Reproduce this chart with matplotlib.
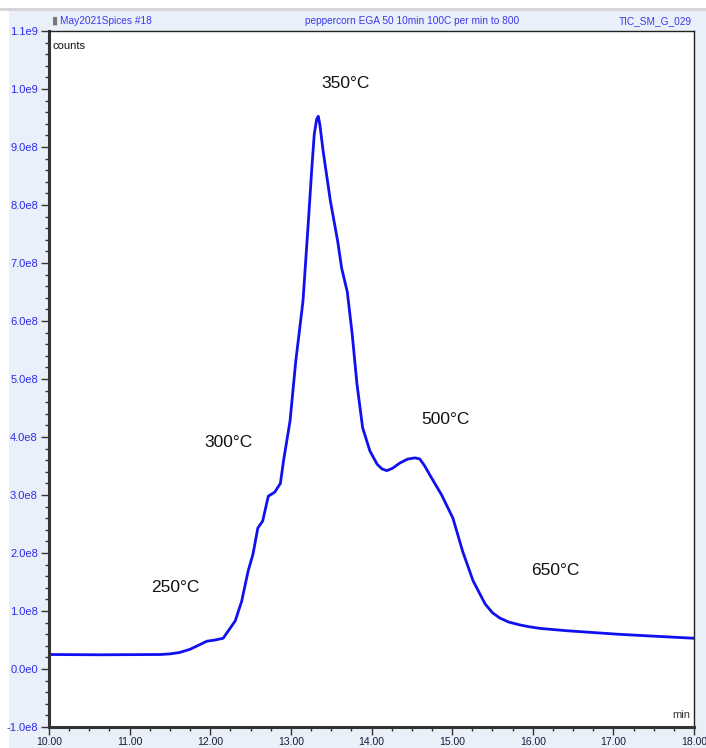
import matplotlib
matplotlib.use("Agg")
import matplotlib.pyplot as plt
from matplotlib.patches import Rectangle
from matplotlib.ticker import MultipleLocator, FixedLocator

plt.rcParams['font.family'] = ['Liberation Sans', 'DejaVu Sans']

# Retention time (min) and TIC counts
time_min = [10.00, 10.63, 11.38, 11.50, 11.62, 11.75, 11.87, 11.96, 12.06, 12.16,
            12.24, 12.31, 12.39, 12.47, 12.53, 12.59, 12.65, 12.72, 12.80, 12.87,
            12.91, 12.99, 13.06, 13.15, 13.22, 13.26, 13.29, 13.32, 13.34, 13.36,
            13.40, 13.49, 13.58, 13.63, 13.70, 13.76, 13.82, 13.89, 13.98, 14.07,
            14.13, 14.19, 14.26, 14.35, 14.45, 14.54, 14.60, 14.66, 14.73, 14.87,
            15.01, 15.13, 15.26, 15.41, 15.50, 15.59, 15.70, 15.84, 15.95, 16.09,
            16.42, 17.05, 17.45, 18.00]
counts = [2.5e7, 2.45e7, 2.5e7, 2.6e7, 2.85e7, 3.4e7, 4.2e7, 4.8e7, 5.0e7, 5.3e7,
          6.9e7, 8.3e7, 1.17e8, 1.69e8, 1.98e8, 2.43e8, 2.55e8, 2.98e8, 3.05e8, 3.2e8,
          3.6e8, 4.28e8, 5.3e8, 6.34e8, 7.78e8, 8.64e8, 9.22e8, 9.48e8, 9.53e8, 9.38e8,
          8.93e8, 8.07e8, 7.38e8, 6.91e8, 6.5e8, 5.78e8, 4.91e8, 4.16e8, 3.76e8, 3.53e8,
          3.45e8, 3.42e8, 3.46e8, 3.55e8, 3.62e8, 3.64e8, 3.62e8, 3.5e8, 3.33e8, 3.0e8,
          2.6e8, 2.03e8, 1.52e8, 1.12e8, 0.97e8, 0.88e8, 0.81e8, 0.76e8, 0.73e8, 0.70e8,
          0.66e8, 0.60e8, 0.57e8, 0.53e8]

annot_labels = ["250°C", "300°C", "350°C", "500°C", "650°C"]
annot_x = [11.57, 12.22, 13.68, 14.92, 16.28]
annot_y = [1.4e8, 3.9e8, 10.1e8, 4.3e8, 1.7e8]

x_ticks = [10, 11, 12, 13, 14, 15, 16, 17, 18]
x_tick_labels = ["10.00", "11.00", "12.00", "13.00", "14.00", "15.00", "16.00", "17.00", "18.00"]
y_ticks = [-1e8, 0, 1e8, 2e8, 3e8, 4e8, 5e8, 6e8, 7e8, 8e8, 9e8, 1.0e9, 1.1e9]
y_tick_labels = ["-1.0e8", "0.0e0", "1.0e8", "2.0e8", "3.0e8", "4.0e8", "5.0e8",
                 "6.0e8", "7.0e8", "8.0e8", "9.0e8", "1.0e9", "1.1e9"]

W, H = 706, 748
fig = plt.figure(figsize=(W / 100, H / 100), dpi=100, facecolor='#EAF0FA')

# top white strip and gray separator
fig.patches.append(Rectangle((0, 1 - 8 / H), 1, 8 / H, transform=fig.transFigure,
                             facecolor='white', edgecolor='none', zorder=-5))
fig.patches.append(Rectangle((0, 1 - 11 / H), 1, 3 / H, transform=fig.transFigure,
                             facecolor='#D6D6D6', edgecolor='none', zorder=-5))
fig.patches.append(Rectangle((0, 0), 9 / W, 1 - 11 / H, transform=fig.transFigure,
                             facecolor='white', edgecolor='none', zorder=-5))

left, right, top, bottom = 49, 694, 31, 727
ax = fig.add_axes([left / W, 1 - bottom / H, (right - left) / W, (bottom - top) / H])
ax.set_facecolor('white')

ax.plot(time_min, counts, color='#1010F0', lw=2.0, solid_joinstyle='round',
        solid_capstyle='round')

ax.set_xlim(10, 18)
ax.set_ylim(-1e8, 1.1e9)

ax.xaxis.set_major_locator(FixedLocator(x_ticks))
ax.set_xticklabels(x_tick_labels)
ax.xaxis.set_minor_locator(MultipleLocator(0.25))
ax.yaxis.set_major_locator(FixedLocator(y_ticks))
ax.set_yticklabels(y_tick_labels)
ax.yaxis.set_minor_locator(MultipleLocator(2e7))

ax.tick_params(axis='y', which='major', length=6, width=1, colors='#333333',
               labelcolor='#2B2BEE', labelsize=8, pad=2)
ax.tick_params(axis='y', which='minor', length=3, width=1, colors='#333333')
ax.tick_params(axis='x', which='major', length=6, width=1, colors='#333333',
               labelcolor='#1A1A3A', labelsize=7.5, pad=1)
ax.tick_params(axis='x', which='minor', length=3, width=1, colors='#333333')

for s in ['left', 'bottom']:
    ax.spines[s].set_linewidth(2.2)
    ax.spines[s].set_color('#333333')
for s in ['top', 'right']:
    ax.spines[s].set_linewidth(1.0)
    ax.spines[s].set_color('#222222')

for lab, xv, yv in zip(annot_labels, annot_x, annot_y):
    ax.text(xv, yv, lab, fontsize=12.5, color='#111111', ha='center', va='center')

ax.text(0.005, 0.985, "counts", transform=ax.transAxes, fontsize=8, color='#111111',
        ha='left', va='top')
ax.text(0.995, 0.01, "min", transform=ax.transAxes, fontsize=8, color='#333333',
        ha='right', va='bottom')

# header
hy = 1 - 21 / H
fig.text(52 / W, hy, "▮", fontsize=8, color='#777777', ha='left', va='center')
fig.text(60 / W, hy, "May2021Spices #18", fontsize=7.3, color='#3A3AE8', ha='left', va='center')
fig.text(412 / W, hy, "peppercorn EGA 50 10min 100C per min to 800", fontsize=7.3,
         color='#3A3AE8', ha='center', va='center')
fig.text(692 / W, hy, "TIC_SM_G_029", fontsize=7.3, color='#3A3AE8', ha='right', va='center')

fig.savefig("out.png", dpi=100, facecolor=fig.get_facecolor())
